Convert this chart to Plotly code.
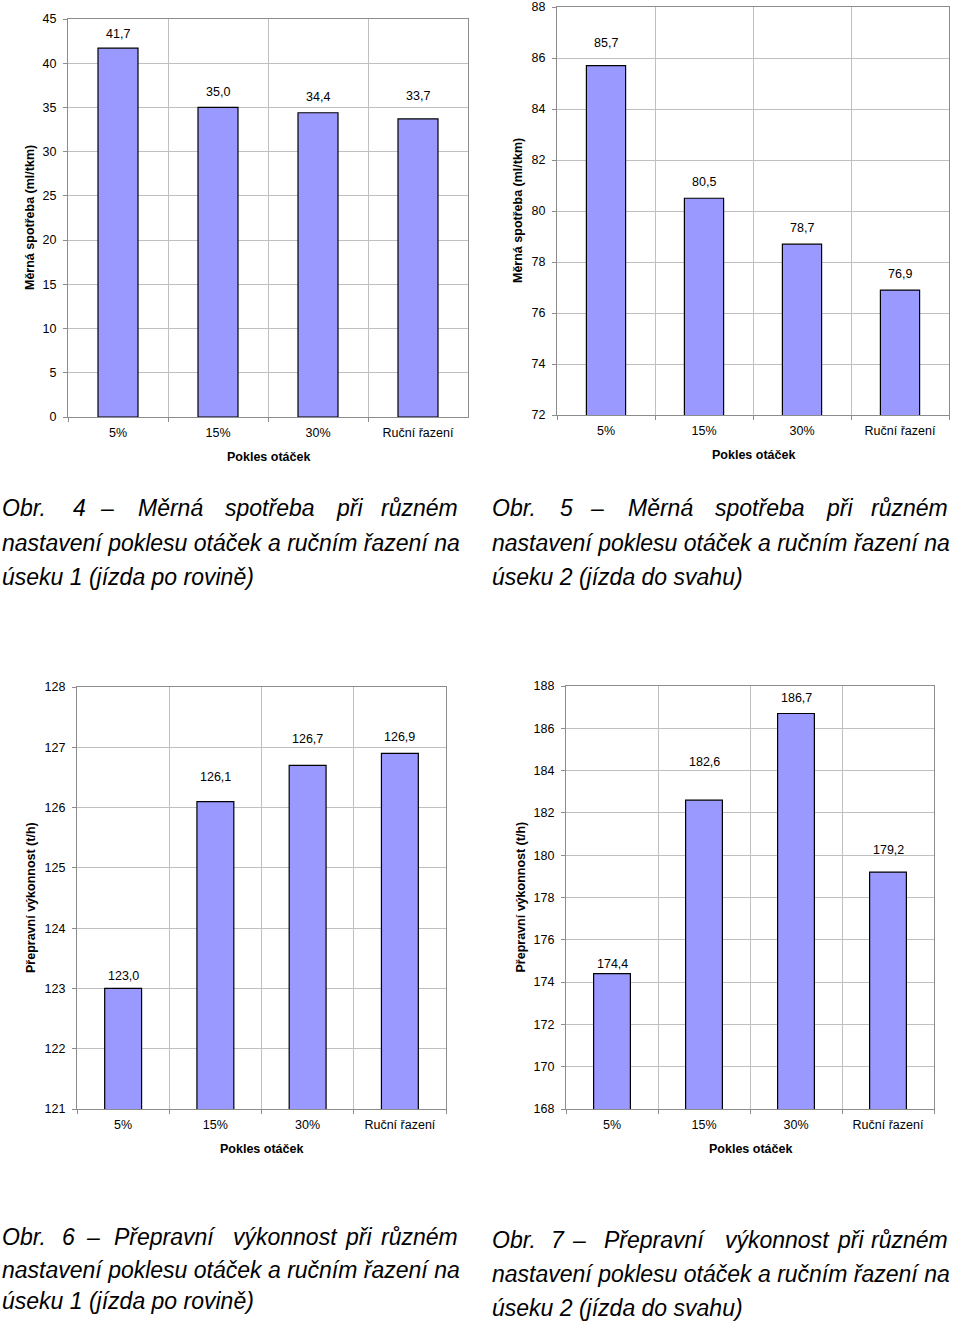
import plotly.graph_objects as go

# ---------------- data ----------------
categories = ["5%", "15%", "30%", "Ruční řazení"]
spotreba_usek1 = [41.7, 35.0, 34.4, 33.7]
spotreba_usek2 = [85.7, 80.5, 78.7, 76.9]
vykonnost_usek1 = [123.0, 126.1, 126.7, 126.9]
vykonnost_usek2 = [174.4, 182.6, 186.7, 179.2]

y_title_spotreba = "Měrná spotřeba (ml/tkm)"
y_title_vykonnost = "Přepravní výkonnost (t/h)"
x_title = "Pokles otáček"

# ---------------- layout helpers ----------------
W, H = 960, 1322
FONT = "Liberation Sans, Arial, Helvetica, sans-serif"
BAR_FILL = "#9999FF"
GRID = "#C0C0C0"
AXIS = "#8C8C8C"


def px_x(v):
    return v / W


def px_y(v):
    return 1 - v / H


panels = [
    dict(vals=spotreba_usek1, yr=[0, 45], dt=5, xp=[68, 468], yp=[19, 417],
         yt=y_title_spotreba, ytx=30, off=[14, 15, 16, 23]),
    dict(vals=spotreba_usek2, yr=[72, 88], dt=2, xp=[557, 949], yp=[7, 415],
         yt=y_title_spotreba, ytx=518, off=[23, 16, 16, 16]),
    dict(vals=vykonnost_usek1, yr=[121, 128], dt=1, xp=[77, 446], yp=[687, 1109],
         yt=y_title_vykonnost, ytx=31, off=[12, 25, 26, 16]),
    dict(vals=vykonnost_usek2, yr=[168, 188], dt=2, xp=[566, 934], yp=[686, 1109],
         yt=y_title_vykonnost, ytx=520, off=[10, 38, 16, 22]),
]

fig = go.Figure()
annotations = []
layout_axes = {}

for i, p in enumerate(panels):
    n = "" if i == 0 else str(i + 1)
    xa, ya = "x" + n, "y" + n
    fig.add_trace(go.Bar(
        x=categories, y=p["vals"], xaxis=xa, yaxis=ya,
        marker=dict(color=BAR_FILL, line=dict(color="#000000", width=1.2)),
        showlegend=False, hoverinfo="x+y",
    ))
    layout_axes["xaxis" + n] = dict(
        domain=[px_x(p["xp"][0]), px_x(p["xp"][1])], anchor=ya,
        type="category", tickson="boundaries", ticks="outside", ticklen=4,
        tickcolor=AXIS, showgrid=True, gridcolor=GRID, gridwidth=1,
        showline=True, linecolor=AXIS, linewidth=1.2, mirror=True,
        tickfont=dict(family=FONT, size=12.5, color="#000000"),
        ticklabelstandoff=4, automargin=False, fixedrange=True,
    )
    layout_axes["yaxis" + n] = dict(
        domain=[px_y(p["yp"][1]), px_y(p["yp"][0])], anchor=xa,
        range=p["yr"], dtick=p["dt"], tick0=p["yr"][0],
        ticks="outside", ticklen=4, tickcolor=AXIS,
        showgrid=True, gridcolor=GRID, gridwidth=1, zeroline=False,
        showline=True, linecolor=AXIS, linewidth=1.2, mirror=True,
        tickfont=dict(family=FONT, size=12.5, color="#000000"),
        ticklabelstandoff=4, automargin=False, fixedrange=True,
    )
    for c, v, o in zip(categories, p["vals"], p["off"]):
        annotations.append(dict(
            x=c, y=v, xref=xa, yref=ya, text=f"{v:.1f}".replace(".", ","),
            showarrow=False, yanchor="middle", yshift=o,
            font=dict(family=FONT, size=12.5, color="#000000"),
        ))
    annotations.append(dict(
        x=px_x(p["ytx"]), y=px_y((p["yp"][0] + p["yp"][1]) / 2), xref="paper", yref="paper",
        text=f"<b>{p['yt']}</b>", textangle=-90, showarrow=False,
        xanchor="center", yanchor="middle",
        font=dict(family=FONT, size=12.5, color="#000000"),
    ))
    annotations.append(dict(
        x=px_x((p["xp"][0] + p["xp"][1]) / 2), y=px_y(p["yp"][1] + 40), xref="paper", yref="paper",
        text=f"<b>{x_title}</b>", showarrow=False, xanchor="center", yanchor="middle",
        font=dict(family=FONT, size=12.5, color="#000000"),
    ))

# ---------------- captions ----------------
CAP = dict(family=FONT, size=23, color="#000000", style="italic")

captions = [
    dict(words=[("Obr.", 0), ("4", 71), ("–", 98), ("Měrná", 136), ("spotřeba", 223), ("při", 334), ("různém", None)],
         right=460, left=0, ys=[508, 543, 577],
         rest=["nastavení poklesu otáček a ručním řazení na", "úseku 1 (jízda po rovině)"]),
    dict(words=[("Obr.", 490), ("5", 558), ("–", 588), ("Měrná", 626), ("spotřeba", 713), ("při", 824), ("různém", None)],
         right=950, left=490, ys=[508, 543, 577],
         rest=["nastavení poklesu otáček a ručním řazení na", "úseku 2 (jízda do svahu)"]),
    dict(words=[("Obr.", 0), ("6", 60), ("–", 84), ("Přepravní", 112), ("výkonnost", 231), ("při", 343), ("různém", None)],
         right=460, left=0, ys=[1237, 1270, 1301],
         rest=["nastavení poklesu otáček a ručním řazení na", "úseku 1 (jízda po rovině)"]),
    dict(words=[("Obr.", 490), ("7", 549), ("–", 570), ("Přepravní", 602), ("výkonnost", 723), ("při", 835), ("různém", None)],
         right=950, left=490, ys=[1240, 1274, 1308],
         rest=["nastavení poklesu otáček a ručním řazení na", "úseku 2 (jízda do svahu)"]),
]

for cap in captions:
    y0 = cap["ys"][0]
    for word, xpos in cap["words"]:
        if xpos is None:
            annotations.append(dict(x=px_x(cap["right"]), y=px_y(y0), xref="paper", yref="paper",
                                    text=word, showarrow=False, xanchor="right", yanchor="middle",
                                    font=CAP))
        else:
            annotations.append(dict(x=px_x(xpos), y=px_y(y0), xref="paper", yref="paper",
                                    text=word, showarrow=False, xanchor="left", yanchor="middle",
                                    font=CAP))
    for line, yy in zip(cap["rest"], cap["ys"][1:]):
        annotations.append(dict(x=px_x(cap["left"]), y=px_y(yy), xref="paper", yref="paper",
                                text=line, showarrow=False, xanchor="left", yanchor="middle",
                                font=CAP))

fig.update_layout(
    width=W, height=H,
    margin=dict(l=0, r=0, t=0, b=0, pad=0, autoexpand=False),
    paper_bgcolor="#FFFFFF", plot_bgcolor="#FFFFFF",
    bargap=0.6,
    annotations=annotations,
    **layout_axes,
)

fig.write_html(
    "out.html",
    config={"displayModeBar": False},
    post_script="document.body.style.margin='0';document.body.style.overflow='hidden';",
)
